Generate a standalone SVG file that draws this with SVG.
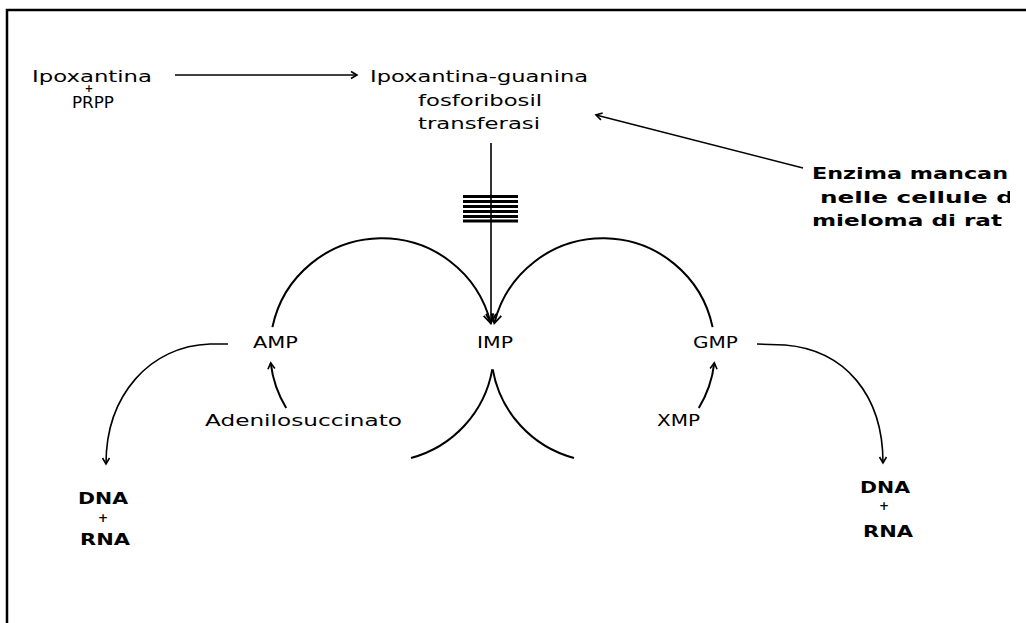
<svg xmlns="http://www.w3.org/2000/svg" width="1026" height="623" viewBox="0 0 1026 623">
  <style>
    .t { font-family: "DejaVu Sans", "Liberation Sans", sans-serif; font-size: 16px; fill: #000; }
    .b { font-family: "DejaVu Sans", "Liberation Sans", sans-serif; font-size: 16px; font-weight: bold; fill: #000; }
    .ln { fill: none; stroke: #000; stroke-width: 1.6; }
    .arc { fill: none; stroke: #000; stroke-width: 2; }
    .frame { fill: none; stroke: #000; stroke-width: 2.5; }
    .bar { stroke: #000; stroke-width: 3; }
  </style>
  <defs>
    <marker id="head" viewBox="-8 -5 10 10" refX="0" refY="0" markerWidth="10" markerHeight="10" markerUnits="userSpaceOnUse" orient="auto">
      <path d="M-6,-3.5 L0,0 L-6,3.5" fill="none" stroke="#000" stroke-width="1.6"/>
    </marker>
    <marker id="headBig" viewBox="-12 -7 14 14" refX="0" refY="0" markerWidth="14" markerHeight="14" markerUnits="userSpaceOnUse" orient="auto">
      <path d="M-9,-5 L0,0 L-9,5" fill="none" stroke="#000" stroke-width="1.8"/>
    </marker>
    <clipPath id="cut">
      <rect x="0" y="0" width="1010" height="623"/>
    </clipPath>
  </defs>

  <rect width="1026" height="623" fill="#fff"/>
  <!-- border -->
  <path class="frame" d="M7,623 V10 H1026"/>

  <g id="connectors">
    <path class="ln" d="M175,75 H357" marker-end="url(#head)"/>
    <path class="ln" d="M803,168 L596,115" marker-end="url(#head)"/>
    <path class="ln" d="M491,143 V323" marker-end="url(#headBig)"/>
    <!-- AMP cycle -->
    <path class="arc" d="M272.4,327.1 A112,112 0 0 1 490.7,323.3" marker-end="url(#headBig)"/>
    <path class="arc" d="M492.3,369.4 A112,112 0 0 1 411,458"/>
    <path class="arc" d="M286.2,408 A112,112 0 0 1 270.7,362.9" marker-end="url(#head)"/>
    <!-- GMP cycle -->
    <path class="arc" d="M712.6,327.1 A112,112 0 0 0 494.3,323.3" marker-end="url(#headBig)"/>
    <path class="arc" d="M492.7,369.4 A112,112 0 0 0 574,458"/>
    <path class="arc" d="M698.8,408 A112,112 0 0 0 714.3,362.9" marker-end="url(#head)"/>
    <!-- outputs to nucleic acids -->
    <path class="ln" d="M228,344 L210,344 C150,346 106,395 106,464" marker-end="url(#head)"/>
    <path class="ln" d="M757,344 L785,345 C845,350 883,395 883,463" marker-end="url(#head)"/>
  </g>

  <g id="block">
    <line class="bar" x1="463" y1="196.5" x2="518" y2="196.5"/>
    <line class="bar" x1="463" y1="201.5" x2="518" y2="201.5"/>
    <line class="bar" x1="463" y1="206.5" x2="518" y2="206.5"/>
    <line class="bar" x1="463" y1="211.5" x2="518" y2="211.5"/>
    <line class="bar" x1="463" y1="216.5" x2="518" y2="216.5"/>
    <line class="bar" x1="463" y1="221" x2="518" y2="221"/>
  </g>

  <!-- regular labels are widened 1.35x horizontally; textLength is in local units -->
  <g id="substrates">
    <text class="t" transform="matrix(1.35 0 0 1 32 82)" textLength="88.9" lengthAdjust="spacingAndGlyphs">Ipoxantina</text>
    <text class="t" x="89" y="92" text-anchor="middle" style="font-size:10px;font-weight:bold">+</text>
    <text class="t" transform="matrix(1.35 0 0 1 72 108)" textLength="31.1" lengthAdjust="spacingAndGlyphs">PRPP</text>
  </g>

  <g id="enzyme">
    <text class="t" transform="matrix(1.35 0 0 1 370 82)" textLength="161.5" lengthAdjust="spacingAndGlyphs">Ipoxantina-guanina</text>
    <text class="t" transform="matrix(1.35 0 0 1 418 106)" textLength="91.9" lengthAdjust="spacingAndGlyphs">fosforibosil</text>
    <text class="t" transform="matrix(1.35 0 0 1 418 129)" textLength="90.4" lengthAdjust="spacingAndGlyphs">transferasi</text>
  </g>

  <g id="note" clip-path="url(#cut)">
    <text class="b" transform="matrix(1.3 0 0 1 812 179)" textLength="150.8" lengthAdjust="spacingAndGlyphs">Enzima mancan</text>
    <text class="b" transform="matrix(1.3 0 0 1 820 203)" textLength="149.2" lengthAdjust="spacingAndGlyphs">nelle cellule d</text>
    <text class="b" transform="matrix(1.3 0 0 1 812 226)" textLength="146.2" lengthAdjust="spacingAndGlyphs">mieloma di rat</text>
  </g>

  <g id="amp"><text class="t" transform="matrix(1.35 0 0 1 253 348)" textLength="33.3" lengthAdjust="spacingAndGlyphs">AMP</text></g>
  <g id="imp"><text class="t" transform="matrix(1.35 0 0 1 477 348)" textLength="26.7" lengthAdjust="spacingAndGlyphs">IMP</text></g>
  <g id="gmp"><text class="t" transform="matrix(1.35 0 0 1 693 348)" textLength="33.3" lengthAdjust="spacingAndGlyphs">GMP</text></g>
  <g id="adenilosuccinato"><text class="t" transform="matrix(1.35 0 0 1 205 426)" textLength="145.9" lengthAdjust="spacingAndGlyphs">Adenilosuccinato</text></g>
  <g id="xmp"><text class="t" transform="matrix(1.35 0 0 1 657 426)" textLength="31.9" lengthAdjust="spacingAndGlyphs">XMP</text></g>

  <g id="nucleic-left">
    <text class="b" transform="matrix(1.3 0 0 1 78 504)" textLength="38.5" lengthAdjust="spacingAndGlyphs">DNA</text>
    <text class="b" x="103" y="522" text-anchor="middle" style="font-size:12px">+</text>
    <text class="b" transform="matrix(1.3 0 0 1 80 545)" textLength="38.5" lengthAdjust="spacingAndGlyphs">RNA</text>
  </g>
  <g id="nucleic-right">
    <text class="b" transform="matrix(1.3 0 0 1 860 493)" textLength="38.5" lengthAdjust="spacingAndGlyphs">DNA</text>
    <text class="b" x="884" y="510" text-anchor="middle" style="font-size:12px">+</text>
    <text class="b" transform="matrix(1.3 0 0 1 863 537)" textLength="38.5" lengthAdjust="spacingAndGlyphs">RNA</text>
  </g>
</svg>
